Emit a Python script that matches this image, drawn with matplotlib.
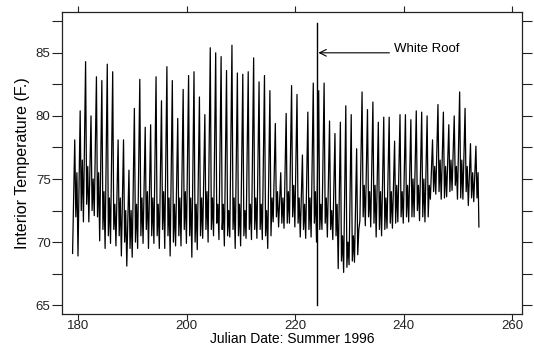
# -*- coding: utf-8 -*-
"""
Interior temperature, summer 1996 (white roof installed on day 224)
"""

import numpy as np
from matplotlib import pyplot as plt

plt.rcParams['font.family'] = ['Liberation Sans', 'DejaVu Sans']

# julian days with one daily cycle each (data starts day 179)
days = list(range(179, 254))

# daily highs (F)
highs = [78.1, 80.4, 84.3, 80.0, 83.1, 82.8, 84.1, 83.5, 78.1, 78.1,
         75.7, 80.6, 82.9, 79.1, 79.3, 83.1, 81.2, 83.9, 82.8, 79.8,
         82.1, 83.2, 83.5, 81.5, 80.1, 85.4, 85.0, 84.7, 83.6, 85.6,
         83.4, 83.3, 83.5, 84.6, 82.7, 83.2, 82.0, 79.4, 75.5, 80.2,
         82.4, 81.7, 76.9, 80.3, 82.6, 82.0, 82.6, 79.6, 78.6, 79.5,
         80.8, 80.1, 77.4, 81.9, 80.5, 81.1, 79.5, 79.9, 79.9, 78.0,
         80.1, 80.1, 79.7, 80.4, 80.3, 80.0, 78.1, 80.9, 80.3, 79.3,
         80.0, 81.9, 80.6, 77.8, 77.6]

# early-morning lows before each high
lows = [69.1, 68.9, 71.6, 71.6, 72.1, 70.1, 69.5, 69.9, 69.7, 68.9,
        68.1, 68.8, 69.5, 69.9, 69.5, 69.9, 69.5, 69.5, 68.9, 69.7,
        69.7, 69.9, 68.8, 69.4, 70.3, 70.0, 70.5, 70.2, 69.7, 70.4,
        69.5, 69.7, 70.3, 70.2, 70.3, 70.2, 69.5, 71.6, 71.2, 71.1,
        71.5, 71.2, 70.4, 70.3, 70.4, 70.0, 71.0, 70.4, 70.2, 67.9,
        67.6, 68.2, 68.4, 71.7, 71.3, 71.2, 70.4, 70.5, 71.1, 71.1,
        71.6, 71.5, 71.6, 72.0, 71.7, 71.6, 73.4, 73.8, 73.4, 73.6,
        74.1, 73.4, 73.4, 72.9, 73.2]

# dip in the afternoon after each high
dips = [72.0, 72.5, 73.0, 72.5, 72.0, 71.0, 70.5, 71.0, 70.5, 70.0,
        69.5, 70.0, 70.5, 71.0, 70.5, 70.5, 71.0, 70.5, 70.0, 70.5,
        71.0, 70.5, 70.0, 70.5, 71.0, 71.0, 71.5, 71.0, 70.5, 71.0,
        70.5, 70.5, 71.0, 71.0, 71.0, 70.5, 70.5, 72.0, 71.5, 71.5,
        72.0, 71.5, 71.0, 71.0, 71.5, 71.0, 71.5, 71.0, 70.5, 68.5,
        68.0, 68.5, 69.0, 72.0, 72.0, 71.5, 71.0, 71.0, 71.5, 71.5,
        72.0, 72.0, 72.0, 72.5, 72.0, 72.0, 74.0, 74.0, 73.5, 74.0,
        74.5, 73.5, 74.0, 73.5, 73.5]

# evening level before the night low
evening = [75.5, 76.5, 76.0, 75.0, 75.5, 74.0, 73.5, 73.0, 73.5, 72.5,
           72.5, 73.0, 73.5, 74.0, 73.5, 73.0, 74.0, 73.5, 73.0, 73.5,
           74.0, 73.5, 73.0, 73.5, 74.0, 73.5, 73.0, 73.0, 72.5, 73.5,
           73.0, 72.5, 73.0, 73.5, 73.0, 72.5, 73.5, 74.0, 73.5, 74.0,
           74.5, 73.5, 73.0, 73.5, 74.0, 73.0, 73.5, 72.5, 73.0, 70.5,
           70.0, 70.5, 71.0, 74.5, 74.0, 74.5, 74.0, 73.5, 74.0, 74.5,
           74.0, 74.5, 75.0, 74.5, 75.0, 74.5, 76.0, 76.5, 76.0, 76.5,
           76.0, 76.5, 76.0, 75.5, 75.5]

last_value = 71.2
roof_day = 224

# build the time series: low, high, dip, evening for each day
t = []
temp = []
for d, lo, hi, dp, ev in zip(days, lows, highs, dips, evening):
    t += [d - 0.05, d + 0.35, d + 0.55, d + 0.75]
    temp += [lo, hi, dp, ev]
t.append(days[-1] + 0.9)
temp.append(last_value)

fig = plt.figure(figsize=(5.34, 3.47), dpi=100)
ax = fig.add_axes([0.1155, 0.095, 0.862, 0.871])

ax.plot(t, temp, color='black', linewidth=0.9)

# white roof marker
ax.plot([roof_day, roof_day], [65, 87.4], color='black', linewidth=1)
ax.annotate('', xy=(roof_day + 0.3, 85), xytext=(237.4, 85),
            arrowprops=dict(arrowstyle='->', color='black', lw=0.8,
                            mutation_scale=12, shrinkA=0, shrinkB=0))
ax.text(238.2, 84.85, 'White Roof', fontsize=9.5, va='bottom', ha='left')

ax.set_xlim(176.94, 261.85)
ax.set_ylim(64.3, 88.25)

ax.set_xticks([180, 200, 220, 240, 260])
yt = np.arange(65, 88, 2.5)
ax.set_yticks(yt)
ax.set_yticklabels(['%d' % v if v % 5 == 0 else '' for v in yt])

ax.tick_params(axis='both', direction='out', labelsize=9.5,
               top=True, right=True, length=6, width=0.8, colors='#222222')
ax.tick_params(axis='y', length=7, pad=1)
ax.tick_params(axis='x', length=4.5, pad=0)
for s in ax.spines.values():
    s.set_linewidth(0.9)
    s.set_color('#222222')

ax.set_xlabel('Julian Date: Summer 1996', fontsize=10, labelpad=-0.5)
ax.set_ylabel('Interior Temperature (F.)', fontsize=11.5, labelpad=4)

plt.savefig('out.png', dpi=100)
